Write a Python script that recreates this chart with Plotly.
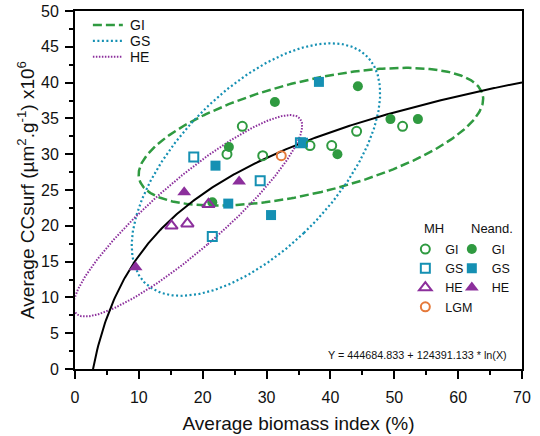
import numpy as np
import plotly.graph_objects as go

# ---- data ----
mh_gi_x = [23.8, 26.2, 29.4, 36.8, 40.2, 44.1, 51.3]
mh_gi_y = [30.0, 33.9, 29.8, 31.2, 31.2, 33.2, 33.9]
ne_gi_x = [21.5, 24.1, 31.3, 41.1, 44.3, 49.4, 53.7]
ne_gi_y = [23.3, 31.0, 37.3, 30.0, 39.5, 34.9, 34.9]
mh_gs_x = [18.6, 21.5, 29.0, 35.3]
mh_gs_y = [29.6, 18.5, 26.3, 31.6]
ne_gs_x = [22.0, 24.0, 30.7, 35.7, 38.2]
ne_gs_y = [28.4, 23.1, 21.5, 31.6, 40.1]
mh_he_x = [15.1, 17.6, 20.9]
mh_he_y = [20.0, 20.3, 23.0]
ne_he_x = [9.5, 17.1, 25.7]
ne_he_y = [14.2, 24.7, 26.2]
lgm_x = [32.3]
lgm_y = [29.8]

fit_a = 444684.833
fit_b = 124391.133
ellipse_level = 0.90
x_ticks = [0, 10, 20, 30, 40, 50, 60, 70]
y_ticks = [0, 5, 10, 15, 20, 25, 30, 35, 40, 45, 50]

GREEN = "#2f9a40"
TEAL = "#1590b3"
PURPLE = "#8c2f9c"
ORANGE = "#e5793a"
FONT = "Liberation Sans, Arial, sans-serif"


def conf_ellipse(xs, ys, level=ellipse_level, n=361):
    xs = np.asarray(xs, float)
    ys = np.asarray(ys, float)
    m = len(xs)
    d2 = m - 2
    fq = (d2 / 2.0) * ((1 - level) ** (-2.0 / d2) - 1.0)   # F(2, n-2) quantile
    k2 = 2.0 * (m - 1) / (m - 2) * fq
    cov = np.cov(xs, ys)
    vals, vecs = np.linalg.eigh(cov)
    t = np.linspace(0, 2 * np.pi, n)
    circ = np.vstack([np.cos(t), np.sin(t)])
    pts = vecs @ (np.sqrt(k2 * vals)[:, None] * circ)
    return pts[0] + xs.mean(), pts[1] + ys.mean()


fig = go.Figure()

GI_DASH = "9px,4px"
GS_DASH = "2px,2.5px"
HE_DASH = "1.5px,1.5px"
groups = [
    ("GI", mh_gi_x + ne_gi_x, mh_gi_y + ne_gi_y, GREEN, GI_DASH, 2.5),
    ("GS", mh_gs_x + ne_gs_x, mh_gs_y + ne_gs_y, TEAL, GS_DASH, 2.2),
    ("HE", mh_he_x + ne_he_x, mh_he_y + ne_he_y, PURPLE, HE_DASH, 2),
]
for name, gx, gy, col, dash, w in groups:
    ex, ey = conf_ellipse(gx, gy)
    fig.add_trace(go.Scatter(x=ex, y=ey, mode="lines", name=name, showlegend=False,
                             line=dict(color=col, dash=dash, width=w),
                             hoverinfo="skip"))

# fitted logarithmic curve (equation shown on the chart)
cx = np.linspace(0.5, 70, 400)
cy = (fit_a + fit_b * np.log(cx / 100.0)) / 1e4
fig.add_trace(go.Scatter(x=cx, y=cy, mode="lines", showlegend=False,
                         line=dict(color="black", width=2), hoverinfo="skip"))

ms = 9
open_line = 2
mh = [
    ("GI", mh_gi_x, mh_gi_y, "circle-open", GREEN, ms),
    ("GS", mh_gs_x, mh_gs_y, "square-open", TEAL, ms),
    ("HE", mh_he_x, mh_he_y, "triangle-up-open", PURPLE, 11),
    ("LGM", lgm_x, lgm_y, "circle-open", ORANGE, ms),
]
ne = [
    ("GI", ne_gi_x, ne_gi_y, "circle", GREEN, 10),
    ("GS", ne_gs_x, ne_gs_y, "square", TEAL, 10),
    ("HE", ne_he_x, ne_he_y, "triangle-up", PURPLE, 12),
]
for name, x, y, sym, col, s in ne:
    fig.add_trace(go.Scatter(x=x, y=y, mode="markers", name=name, legend="legend3",
                             marker=dict(symbol=sym, color=col, size=s,
                                         line=dict(width=0))))
for name, x, y, sym, col, s in mh:
    fig.add_trace(go.Scatter(x=x, y=y, mode="markers", name=name, legend="legend2",
                             marker=dict(symbol=sym, color=col, size=s,
                                         line=dict(width=open_line, color=col))))

axis_common = dict(
    showline=True, linecolor="black", linewidth=2, mirror=True,
    ticks="outside", tickcolor="black", tickwidth=1.5, ticklen=8,
    showgrid=False, zeroline=False, automargin=False,
    tickfont=dict(family=FONT, size=16, color="#111"),
)
fig.update_xaxes(range=[0, 70], tickvals=x_ticks, ticklabelstandoff=5,
                 minor=dict(dtick=5, ticks="outside", ticklen=4, tickwidth=1.5, tickcolor="black"),
                 title=dict(text="Average biomass index (%)",
                            font=dict(family=FONT, size=19, color="#111"), standoff=11),
                 **axis_common)
fig.update_yaxes(range=[0, 50], tickvals=y_ticks, ticklabelstandoff=3,
                 minor=dict(dtick=2.5, ticks="outside", ticklen=4, tickwidth=1.5, tickcolor="black"),
                 title=dict(text="Average CCsurf (µm<sup>2</sup>.g<sup>-1</sup>) x10<sup>6</sup>",
                            font=dict(family=FONT, size=19, color="#111"), standoff=1),
                 **axis_common)

leg_common = dict(bgcolor="rgba(0,0,0,0)", borderwidth=0,
                  font=dict(family=FONT, size=12.5, color="#111"),
                  xanchor="left", yanchor="top", itemclick=False)

# top-left key for the ellipses (line samples + labels)
key_rows = [("GI", GREEN, GI_DASH, 2.5), ("GS", TEAL, GS_DASH, 2.2), ("HE", PURPLE, HE_DASH, 2)]
key_y0, key_dy = 0.961, 0.0445
shapes, annots = [], []
for i, (lab, col, dash, w) in enumerate(key_rows):
    yy = key_y0 - i * key_dy
    shapes.append(dict(type="line", xref="paper", yref="paper", x0=0.040, x1=0.107,
                       y0=yy, y1=yy, line=dict(color=col, dash=dash, width=w)))
    annots.append(dict(text=lab, x=0.118, y=yy, xref="paper", yref="paper",
                       xanchor="left", yanchor="middle", showarrow=False,
                       font=dict(family=FONT, size=14, color="#111")))

annots += [
    dict(text="MH", x=0.777, y=0.393, xref="paper", yref="paper",
         xanchor="left", yanchor="middle", showarrow=False,
         font=dict(family=FONT, size=13, color="#111")),
    dict(text="Neand.", x=0.882, y=0.393, xref="paper", yref="paper",
         xanchor="left", yanchor="middle", showarrow=False,
         font=dict(family=FONT, size=13, color="#111")),
    dict(text="Y = 444684.833 + 124391.133 * ln(X)", x=0.972, y=0.039,
         xref="paper", yref="paper", xanchor="right", yanchor="middle",
         showarrow=False, font=dict(family=FONT, size=10.8, color="#111")),
]

fig.update_layout(
    width=540, height=436,
    margin=dict(l=75, r=18, t=11, b=67),
    plot_bgcolor="white", paper_bgcolor="white",
    legend2=dict(x=0.739, y=0.376, **leg_common),
    legend3=dict(x=0.843, y=0.376, **leg_common),
    shapes=shapes,
    annotations=annots,
)

fig.write_html("out.html", config={"displayModeBar": False},
               post_script="document.body.style.margin='0';document.body.style.overflow='hidden';")
